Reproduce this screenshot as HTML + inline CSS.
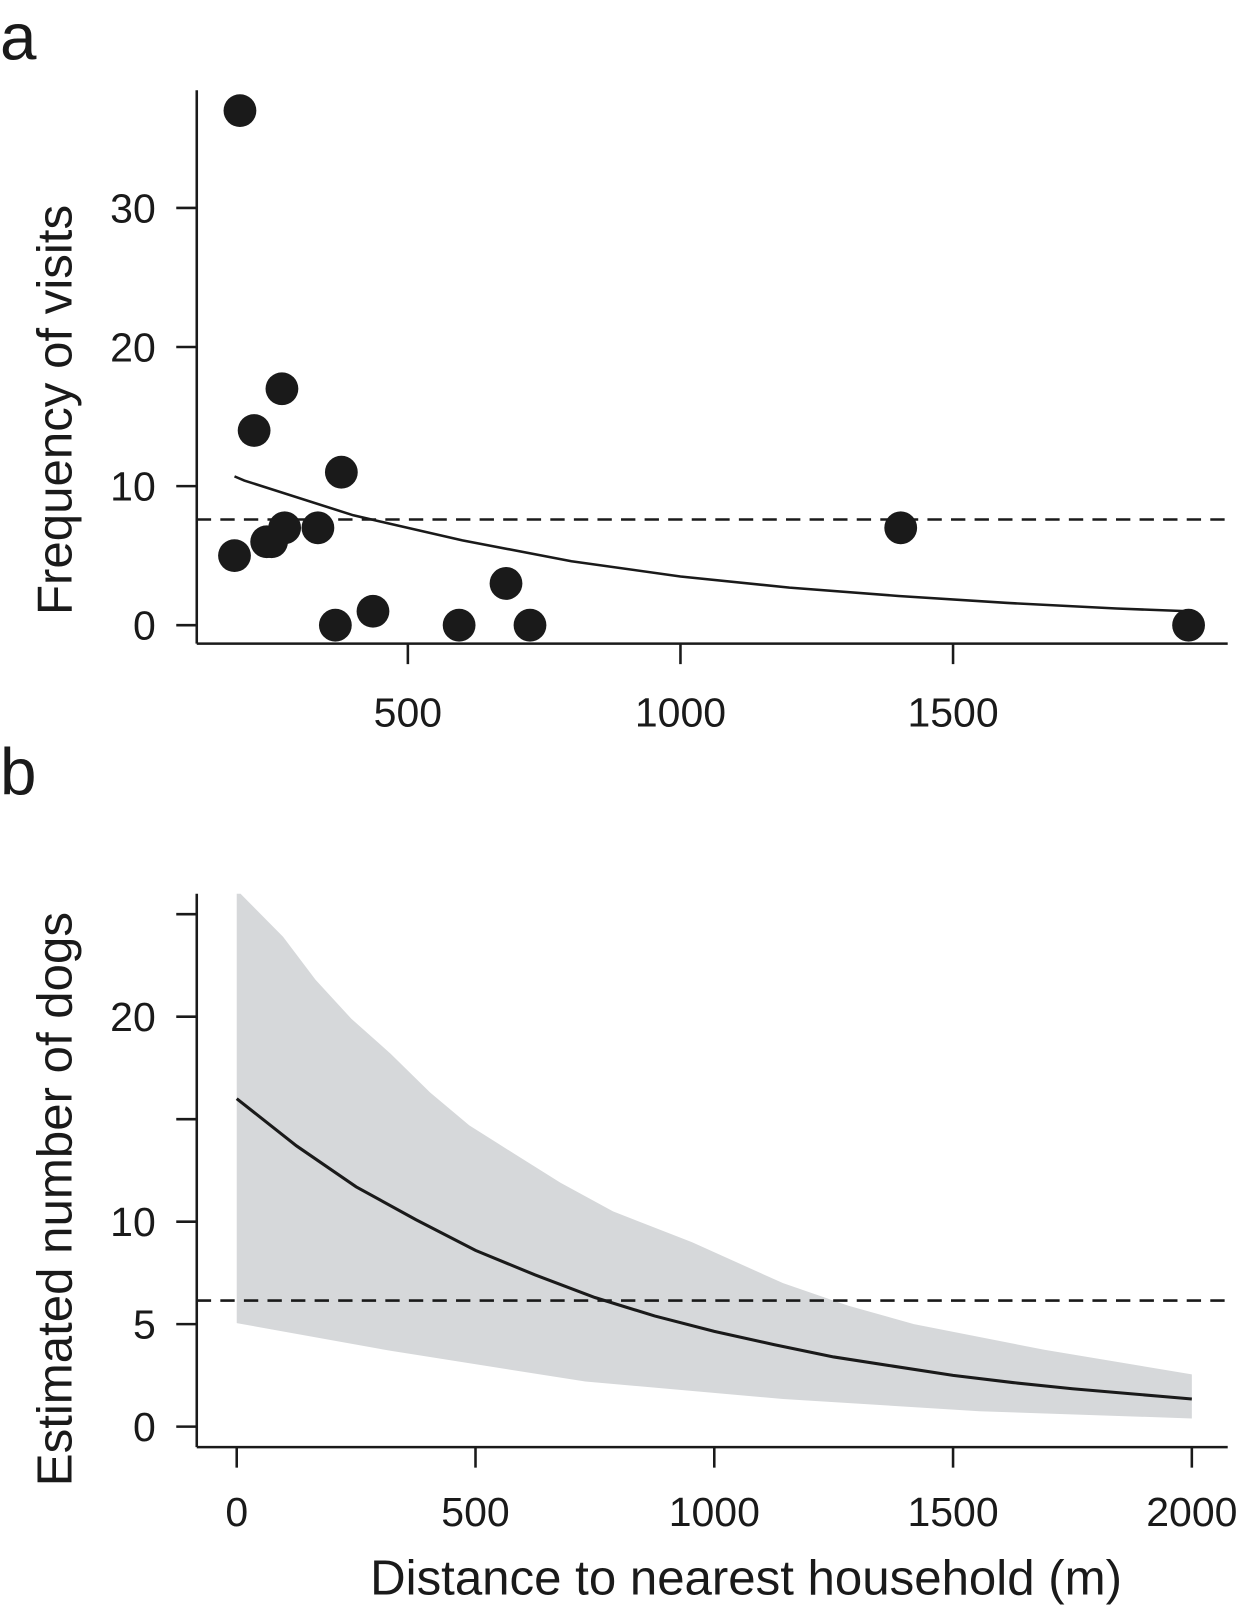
<!DOCTYPE html>
<html><head><meta charset="utf-8"><style>
html,body{margin:0;padding:0;background:#fff}
svg{display:block;font-family:"Liberation Sans",Arial,sans-serif}
</style></head><body>
<svg id="fig" width="1240" height="1606" viewBox="0 0 1210 1567" preserveAspectRatio="none" xmlns="http://www.w3.org/2000/svg">
<text x="0" y="58" font-size="64" fill="#1a1a1a">a</text>
<text x="0" y="775" font-size="64" fill="#1a1a1a">b</text>
<g id="pa"></g>
<g id="pb"></g>
</svg>
<script>
// Panel a data
const aDist = [192,182,218,269,241,250,274,335,367,378,436,594,680,724,1404,1932];
const aVisits = [37,5,14,17,6,6,7,7,0,11,1,0,3,0,7,0];
const aCurveX = [182,200,400,600,800,1000,1200,1400,1600,1800,1932];
const aCurveY = [10.7,10.4,7.9,6.1,4.6,3.5,2.7,2.1,1.6,1.2,1.0];
const aMean = 7.6;
const aXTicks = [500,1000,1500];
const aYTicks = [0,10,20,30];
// Panel b data
const bCurveX = [0,125,250,375,500,625,750,875,1000,1125,1250,1375,1500,1625,1750,1875,2000];
const bCurveY = [16,13.7,11.7,10.1,8.6,7.4,6.3,5.4,4.65,4.0,3.4,2.95,2.5,2.15,1.85,1.6,1.35];
const bUpperX = [0,8,97,165,240,322,405,487,582,678,788,953,1144,1281,1418,1691,2000];
const bUpperY = [27,26,23.9,21.8,19.9,18.2,16.3,14.7,13.3,11.9,10.5,9.0,7.0,5.9,5.0,3.75,2.55];
const bLowerX = [0,322,730,1144,1555,2000];
const bLowerY = [5.05,3.7,2.2,1.35,0.75,0.4];
const bMean = 6.15;
const bXTicks = [0,500,1000,1500,2000];
const bYTicks = [0,5,10,15,20,25];
const bYLabels = ["0","5","10","","20",""];

const NS="http://www.w3.org/2000/svg";
function mk(parent,tag,attrs){const e=document.createElementNS(NS,tag);for(const k in attrs)e.setAttribute(k,attrs[k]);parent.appendChild(e);return e;}

// Panel a scales
const axA = d => 132 + d*0.532;
const ayA = v => 610 - v*13.57;
const pa=document.getElementById('pa');
let e;
e=mk(pa,'line',{x1:192,y1:88,x2:192,y2:628,stroke:'#1a1a1a','stroke-width':2.5});


e=mk(pa,'line',{x1:192,y1:628,x2:1198,y2:628,stroke:'#1a1a1a','stroke-width':2.5});


aYTicks.forEach(t=>{
  e=mk(pa,'line',{x1:172,y1:ayA(t),x2:192,y2:ayA(t),stroke:'#1a1a1a','stroke-width':2.5});
  
  
  e=mk(pa,'text',{x:152,y:ayA(t)+14,'font-size':40,'text-anchor':'end',fill:'#1a1a1a'});e.textContent=t;
  
  
});
aXTicks.forEach(t=>{
  e=mk(pa,'line',{x1:axA(t),y1:628,x2:axA(t),y2:648,stroke:'#1a1a1a','stroke-width':2.5});
  
  
  e=mk(pa,'text',{x:axA(t),y:709,'font-size':40,'text-anchor':'middle',fill:'#1a1a1a'});e.textContent=t;
  
  
});
e=mk(pa,'text',{x:0,y:0,'font-size':48,'text-anchor':'middle',fill:'#1a1a1a',transform:'translate(70,400) rotate(-90)'});e.textContent='Frequency of visits';


e=mk(pa,'line',{x1:192,y1:ayA(aMean),x2:1198,y2:ayA(aMean),stroke:'#1a1a1a','stroke-width':2.5,'stroke-dasharray':'14 9'});


e=mk(pa,'path',{d:aCurveX.map((x,i)=>(i?'L':'M')+axA(x)+' '+ayA(aCurveY[i])).join(' '),fill:'none',stroke:'#1a1a1a','stroke-width':2.5});


aDist.forEach((d,i)=>{
  e=mk(pa,'circle',{cx:axA(d),cy:ayA(aVisits[i]),r:16,fill:'#1a1a1a'});
  
  
});

// Panel b scales
const axB = d => 231 + d*0.466;
const ayB = v => Math.max(872, 1392 - v*20);
const pb=document.getElementById('pb');
let band = bUpperX.map((x,i)=>(i?'L':'M')+axB(x)+' '+ayB(bUpperY[i])).join(' ');
for(let i=bLowerX.length-1;i>=0;i--) band+=' L'+axB(bLowerX[i])+' '+ayB(bLowerY[i]);
e=mk(pb,'path',{d:band+' Z',fill:'#d6d8da'});


e=mk(pb,'line',{x1:192,y1:872,x2:192,y2:1412,stroke:'#1a1a1a','stroke-width':2.5});


e=mk(pb,'line',{x1:192,y1:1412,x2:1198,y2:1412,stroke:'#1a1a1a','stroke-width':2.5});


bYTicks.forEach((t,i)=>{
  e=mk(pb,'line',{x1:172,y1:ayB(t),x2:192,y2:ayB(t),stroke:'#1a1a1a','stroke-width':2.5});
  
  
  if(bYLabels[i]){
    e=mk(pb,'text',{x:152,y:ayB(t)+14,'font-size':40,'text-anchor':'end',fill:'#1a1a1a'});e.textContent=bYLabels[i];
    
    
  }
});
bXTicks.forEach(t=>{
  e=mk(pb,'line',{x1:axB(t),y1:1412,x2:axB(t),y2:1432,stroke:'#1a1a1a','stroke-width':2.5});
  
  
  e=mk(pb,'text',{x:axB(t),y:1489,'font-size':40,'text-anchor':'middle',fill:'#1a1a1a'});e.textContent=t;
  
  
});
e=mk(pb,'text',{x:0,y:0,'font-size':48,'text-anchor':'middle',fill:'#1a1a1a',transform:'translate(70,1170) rotate(-90)'});e.textContent='Estimated number of dogs';


e=mk(pb,'text',{x:728,y:1556,'font-size':48,'text-anchor':'middle',fill:'#1a1a1a'});e.textContent='Distance to nearest household (m)';


e=mk(pb,'line',{x1:192,y1:ayB(bMean),x2:1198,y2:ayB(bMean),stroke:'#1a1a1a','stroke-width':2.5,'stroke-dasharray':'14 9'});


e=mk(pb,'path',{d:bCurveX.map((x,i)=>(i?'L':'M')+axB(x)+' '+ayB(bCurveY[i])).join(' '),fill:'none',stroke:'#1a1a1a','stroke-width':3});


</script>
</body></html>
